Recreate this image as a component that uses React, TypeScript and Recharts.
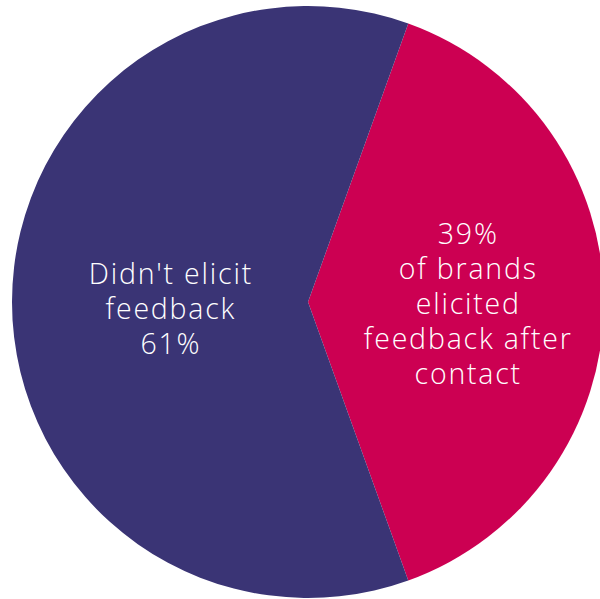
import React from "react";
import { PieChart, Pie, Cell } from "recharts";

const categories = ["Elicited feedback after contact", "Didn't elicit feedback"];
const values = [39, 61];
const colors = ["#cc0052", "#3a3475"];
const labelLines = [
  ["39%", "of brands", "elicited", "feedback after", "contact"],
  ["Didn't elicit", "feedback", "61%"],
];
const labelRadiusFactor = [0.538, 0.4666];
const labelShiftY = [0.5, 6];

const data = categories.map((name, i) => ({ name, value: values[i] }));

const RADIAN = Math.PI / 180;

const renderLabel = (props: any) => {
  const { cx, cy, midAngle, outerRadius, index } = props;
  const r = outerRadius * labelRadiusFactor[index];
  const x = cx + r * Math.cos(-midAngle * RADIAN);
  const y = cy + r * Math.sin(-midAngle * RADIAN) + labelShiftY[index];
  const lines = labelLines[index];
  const lh = 35;
  const startY = y - ((lines.length - 1) * lh) / 2;
  return (
    <text
      x={x}
      y={startY}
      fill="#ffffff"
      textAnchor="middle"
      dominantBaseline="central"
      fontFamily="'Open Sans', sans-serif"
      fontSize={28.5}
      fontWeight={300}
      letterSpacing={1.8}
    >
      {lines.map((l, i) => (
        <tspan key={i} x={x + 1} y={startY + i * lh} dominantBaseline="central">
          {l}
        </tspan>
      ))}
    </text>
  );
};

export default function App() {
  const half = (values[0] / 100) * 180;
  return (
    <div style={{ position: "absolute", left: 0, top: 0, width: 600, height: 599, background: "#fff" }}>
      <PieChart width={600} height={599} margin={{ top: 0, right: 0, bottom: 0, left: 0 }}>
        <Pie
          data={data}
          dataKey="value"
          nameKey="name"
          cx={308}
          cy={302}
          outerRadius={296}
          startAngle={half}
          endAngle={half - 360}
          stroke="none"
          label={renderLabel}
          labelLine={false}
          isAnimationActive={false}
        >
          {data.map((d, i) => (
            <Cell key={d.name} fill={colors[i]} />
          ))}
        </Pie>
      </PieChart>
    </div>
  );
}
